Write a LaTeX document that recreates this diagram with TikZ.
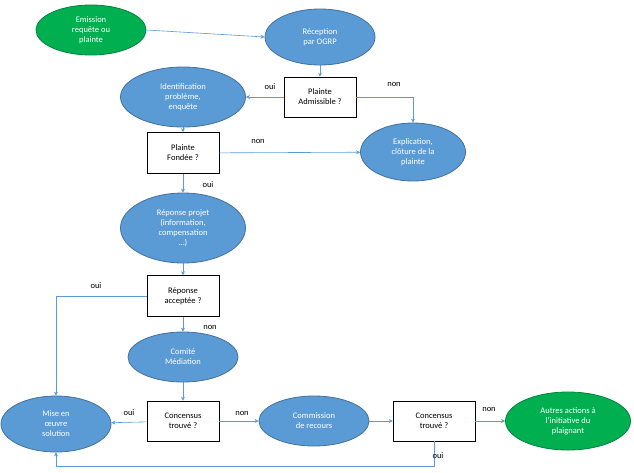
\documentclass[tikz,border=0pt]{standalone}
\usepackage{fontspec}
\setmainfont{Carlito}
\usetikzlibrary{shapes.geometric,arrows.meta}
\definecolor{bl}{HTML}{5B9BD5}
\definecolor{bld}{HTML}{41719C}
\definecolor{gr}{HTML}{00B050}
\definecolor{grd}{HTML}{00823B}
\tikzset{
 ell/.style={ellipse,draw=bld,fill=bl,text=white,line width=0.8pt,inner sep=0pt,align=center,font=\fontsize{8.5}{10}\selectfont},
 gell/.style={ell,draw=grd,fill=gr},
 box/.style={rectangle,draw=black,fill=white,line width=0.6pt,inner sep=0pt,align=center,font=\fontsize{8.5}{10}\selectfont},
 con/.style={draw=bl,line width=0.6pt,-{Stealth[length=4pt,width=4pt]}},
 lab/.style={font=\fontsize{8.5}{10}\selectfont}
}
\begin{document}
\begin{tikzpicture}[x=1pt,y=-1pt]
\useasboundingbox (0,0) rectangle (634,472);
\node[gell,minimum width=110,minimum height=50] (em) at (91,30) {Emission\\requête ou\\plainte};
\node[ell,minimum width=110,minimum height=56] (rec) at (320,37) {Réception\\par OGRP};
\node[ell,minimum width=125,minimum height=60] (id) at (183,97) {Identification\\problème,\\enquête};
\node[box,minimum width=72,minimum height=40] (adm) at (320,97) {Plainte\\Admissible ?};
\node[ell,minimum width=105,minimum height=58] (exp) at (413,152) {Explication,\\clôture de la\\plainte};
\node[box,minimum width=72,minimum height=41] (fon) at (183,153) {Plainte\\Fondée ?};
\node[ell,minimum width=125,minimum height=70] (rep) at (183,228) {Réponse projet\\(information,\\compensation\\…)};
\node[box,minimum width=72,minimum height=41] (acc) at (183,296) {Réponse\\acceptée ?};
\node[ell,minimum width=110,minimum height=50] (com) at (183,357) {Comité\\Médiation};
\node[ell,minimum width=110,minimum height=56] (mise) at (56,424) {Mise en\\œuvre\\solution};
\node[box,minimum width=72,minimum height=40] (c1) at (183,421) {Concensus\\trouvé ?};
\node[ell,minimum width=110,minimum height=50] (cr) at (314,421) {Commission\\de recours};
\node[box,minimum width=82,minimum height=40] (c2) at (434,421) {Concensus\\trouvé ?};
\node[gell,minimum width=125,minimum height=58] (aut) at (568,421) {Autres actions à\\l’initiative du\\plaignant};
\draw[con] (em.east) -- (rec.west);
\draw[con] (rec) -- (adm);
\draw[con] (adm) -- (id);
\node[lab] (l1) at (270,87) {oui};
\draw[con] (adm.east) -| (exp.north);
\node[lab] (l2) at (394,84) {non};
\draw[con] (id) -- (fon);
\draw[con] (fon) -- (exp);
\node[lab] (l3) at (258,141) {non};
\draw[con] (fon) -- (rep);
\node[lab] (l4) at (208,185) {oui};
\draw[con] (rep) -- (acc);
\draw[con] (acc.west) -| (mise.north);
\node[lab] (l5) at (96,286) {oui};
\draw[con] (acc) -- (com);
\node[lab] (l6) at (210,327) {non};
\draw[con] (com) -- (c1);
\draw[con] (c1) -- (mise);
\node[lab] (l7) at (129,413) {oui};
\draw[con] (c1) -- (cr);
\node[lab] (l8) at (242,413) {non};
\draw[con] (cr) -- (c2);
\draw[con] (c2) -- (aut);
\node[lab] (l9) at (489,409) {non};
\coordinate (b1) at (434,466);
\coordinate (b2) at (56,466);
\draw[con] (c2.south) -- (b1) -- (b2) -- (mise.south);
\node[lab] (l10) at (438,456) {oui};
\end{tikzpicture}
\end{document}
